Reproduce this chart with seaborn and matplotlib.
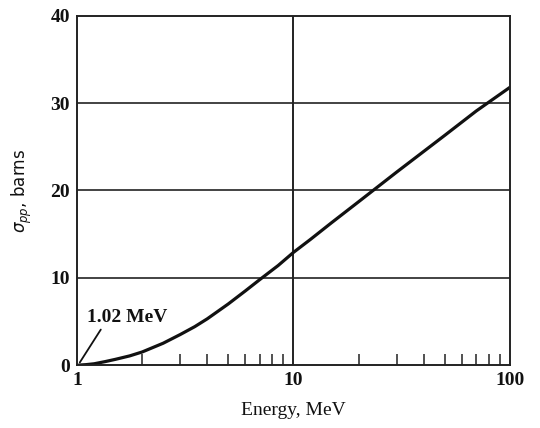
import matplotlib
matplotlib.use("Agg")
import matplotlib.pyplot as plt
import seaborn as sns
import pandas as pd
from matplotlib.ticker import FixedLocator, NullFormatter

energy = [1.02, 1.1, 1.2, 1.35, 1.5, 1.75, 2, 2.5, 3, 3.5, 4, 5, 6, 7, 8.5, 10,
          12, 15, 20, 30, 50, 70, 100]
sigma = [0.0, 0.05, 0.15, 0.4, 0.65, 1.05, 1.5, 2.5, 3.5, 4.4, 5.3, 7.0, 8.5, 9.8,
         11.4, 12.9, 14.4, 16.3, 18.7, 22.1, 26.3, 29.1, 31.8]
x_ticks = [1, 10, 100]
x_tick_labels = ["1", "10", "100"]
y_ticks = [0, 10, 20, 30, 40]
minor_x = [2, 3, 4, 5, 6, 7, 8, 9, 20, 30, 40, 50, 60, 70, 80, 90]

sns.set_style("white")
plt.rcParams['font.family'] = ['Liberation Serif', 'DejaVu Serif']
plt.rcParams['mathtext.fontset'] = 'dejavusans'

df = pd.DataFrame({"Energy": energy, "sigma": sigma})

fig = plt.figure(figsize=(5.4, 4.28), dpi=100)
ax = fig.add_axes([0.1426, 0.147, 0.8014, 0.816])
sns.lineplot(data=df, x="Energy", y="sigma", ax=ax, color="#111111", linewidth=2.3)
ax.set_xscale("log")
ax.set_xlim(1, 100)
ax.set_ylim(0, 40)

ax.xaxis.set_major_locator(FixedLocator(x_ticks))
ax.set_xticklabels(x_tick_labels)
ax.xaxis.set_minor_locator(FixedLocator(minor_x))
ax.xaxis.set_minor_formatter(NullFormatter())
ax.set_yticks(y_ticks)

ax.tick_params(axis="both", which="major", length=0, pad=5, labelsize=14, labelcolor="#111111")
ax.tick_params(axis="x", which="minor", direction="in", length=8, width=1.1, color="#222222", bottom=True, top=False)
for lbl in ax.get_xticklabels() + ax.get_yticklabels():
    lbl.set_fontweight("bold")

for v in [10, 20, 30]:
    ax.axhline(v, color="#222222", linewidth=1.2, zorder=1)
ax.axvline(10, color="#222222", linewidth=1.4, zorder=1)

for s in ax.spines.values():
    s.set_color("#222222")
    s.set_linewidth(1.4)

ax.set_xlabel("Energy, MeV", fontsize=14, labelpad=9, color="#111111")
ax.set_ylabel(r"$\sigma_{pp}$, barns", fontsize=12, labelpad=12, color="#111111",
              fontfamily="DejaVu Sans")

ax.annotate("1.02 MeV", xy=(1.03, 0.3), xytext=(1.11, 4.9), fontsize=14, fontweight="bold",
            color="#111111",
            arrowprops=dict(arrowstyle="-", color="#111111", linewidth=1.3, shrinkA=0, shrinkB=0,
                            relpos=(0.2, 0.0)))

fig.savefig("out.png", dpi=100)
